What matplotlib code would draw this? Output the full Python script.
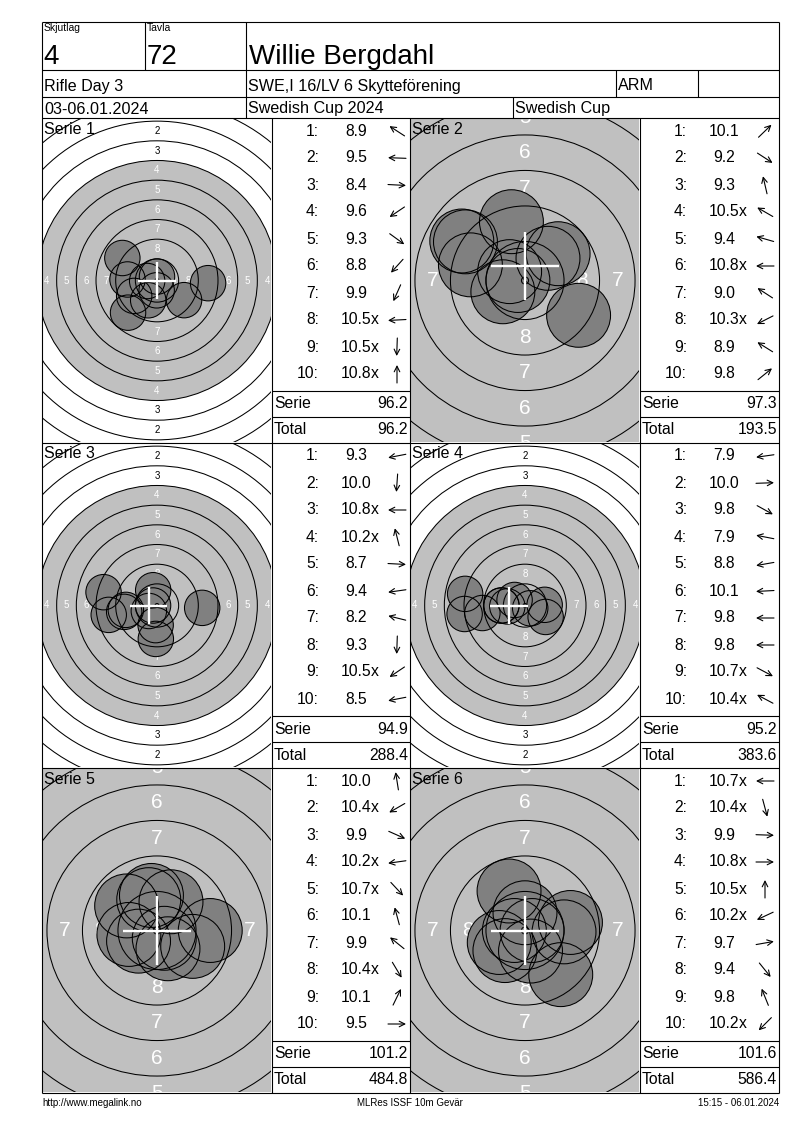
import numpy as np
import matplotlib
matplotlib.use("Agg")
import matplotlib.pyplot as plt
from matplotlib.patches import Circle, FancyArrowPatch

plt.rcParams['font.family'] = ['Liberation Sans', 'DejaVu Sans']

W, H = 800, 1130

# --- header ---
relay = "4"
target_no = "72"
shooter = "Willie Bergdahl"
event = "Rifle Day 3"
club = "SWE,I 16/LV 6 Skytteförening"
shooter_class = "ARM"
dates = "03-06.01.2024"
competition = "Swedish Cup 2024"
cup = "Swedish Cup"
footer_left = "http://www.megalink.no"
footer_mid = "MLRes ISSF 10m Gevär"
footer_right = "15:15 - 06.01.2024"

# --- shots: decimal score and direction of the arrow (degrees, 0 = right, 90 = up) ---
s1_scores = ["8.9", "9.5", "8.4", "9.6", "9.3", "8.8", "9.9", "10.5x", "10.5x", "10.8x"]
s1_dirs = [147, 178, -3, 214, -36, 228, 246, 183, 268, 90]
s2_scores = ["10.1", "9.2", "9.3", "10.5x", "9.4", "10.8x", "9.0", "10.3x", "8.9", "9.8"]
s2_dirs = [44, -33, 103, 150, 164, 180, 147, 207, 148, 39]
s3_scores = ["9.3", "10.0", "10.8x", "10.2x", "8.7", "9.4", "8.2", "9.3", "10.5x", "8.5"]
s3_dirs = [191, 266, 180, 104, -3, 188, 166, 268, 214, 191]
s4_scores = ["7.9", "10.0", "9.8", "7.9", "8.8", "10.1", "9.8", "9.8", "10.7x", "10.4x"]
s4_dirs = [188, 2, -29, 169, 190, 183, 180, 180, -28, 152]
s5_scores = ["10.0", "10.4x", "9.9", "10.2x", "10.7x", "10.1", "9.9", "10.4x", "10.1", "9.5"]
s5_dirs = [99, 210, -24, 188, -47, 105, 141, -59, 64, 0]
s6_scores = ["10.7x", "10.4x", "9.9", "10.8x", "10.5x", "10.2x", "9.7", "9.4", "9.8", "10.2x"]
s6_dirs = [180, -75, -2, 0, 90, 205, 10, -51, 112, 225]

serie_sums = [96.2, 97.3, 94.9, 95.2, 101.2, 101.6]
running_totals = [96.2, 193.5, 288.4, 383.6, 484.8, 586.4]
zoomed = [False, True, False, False, True, True]
# mean point of impact cross (mm from centre)
mpi_x = [0.0, 0.0, -1.07, -2.0, 0.0, 0.0]
mpi_y = [0.0, 1.0, 0.0, 0.0, 0.0, 0.0]

all_scores = [s1_scores, s2_scores, s3_scores, s4_scores, s5_scores, s6_scores]
all_dirs = [s1_dirs, s2_dirs, s3_dirs, s4_dirs, s5_dirs, s6_dirs]

# ISSF 10m air rifle target (mm)
ring_r = [22.75 - 2.5 * (n - 1) for n in range(1, 10)]
black_r = 15.25
dot_r = 0.25
pellet_r = 2.25

fig = plt.figure(figsize=(W / 100, H / 100), dpi=100)
fig.patch.set_facecolor('white')

row_tops = [118, 443, 768]
col_target = [42, 410]
col_table = [(272, 410), (640, 779)]
tw, th = 228, 323

for i in range(6):
    r, c = divmod(i, 2)
    top = row_tops[r]
    tx0 = col_target[c] + 1
    ty0 = top + 1
    scale = 14.2 if zoomed[i] else 7.87
    lab_fs = 15 if zoomed[i] else 7
    xmax, ymax = tw / 2 / scale, th / 2 / scale
    margin = 3 / scale

    tax = fig.add_axes([tx0 / W, 1 - (ty0 + th) / H, tw / W, th / H])
    tax.set_xlim(-xmax, xmax)
    tax.set_ylim(-ymax, ymax)
    tax.axis('off')

    tax.add_patch(Circle((0, 0), black_r, fc='#c0c0c0', ec='none', zorder=1))
    for n, rr in enumerate(ring_r, start=1):
        tax.add_patch(Circle((0, 0), rr, fill=False, ec='black', lw=0.75, zorder=4))
        if n <= 8:
            lr = rr - 1.25
            col = 'white' if n >= 4 else 'black'
            if lr <= ymax + margin:
                for py in (lr, -lr):
                    tax.text(0, py, str(n), color=col, fontsize=lab_fs, ha='center',
                             va='center', zorder=2, clip_on=True)
            if lr <= xmax + margin:
                for px in (-lr, lr):
                    tax.text(px, 0, str(n), color=col, fontsize=lab_fs, ha='center',
                             va='center', zorder=2, clip_on=True)
    tax.add_patch(Circle((0, 0), dot_r, fill=False, ec='black', lw=0.75, zorder=5))

    for s, d in zip(all_scores[i], all_dirs[i]):
        val = float(s.rstrip('x'))
        dist = (11.0 - val) * 2.5
        a = np.radians(d)
        x, y = dist * np.cos(a), dist * np.sin(a)
        tax.add_patch(Circle((x, y), pellet_r, fc='#808080', ec='none', zorder=3))
        tax.add_patch(Circle((x, y), pellet_r, fill=False, ec='black', lw=0.75, zorder=4))

    hl = 2.4
    mx, my = mpi_x[i], mpi_y[i]
    tax.plot([mx - hl, mx + hl], [my, my], color='white', lw=1.7, zorder=6, solid_capstyle='butt')
    tax.plot([mx, mx], [my - hl, my + hl], color='white', lw=1.7, zorder=6, solid_capstyle='butt')

# overlay layer in pixel coordinates
ax = fig.add_axes([0, 0, 1, 1])
ax.set_xlim(0, W)
ax.set_ylim(H, 0)
ax.axis('off')

lw = 0.8
def hline(y, x0, x1):
    ax.plot([x0, x1], [y, y], color='black', lw=lw, solid_capstyle='butt')

def vline(x, y0, y1):
    ax.plot([x, x], [y0, y1], color='black', lw=lw, solid_capstyle='butt')

# frame
hline(22, 42, 779)
hline(1093, 42, 779)
vline(42, 22, 1093)
vline(779, 22, 1093)
for y in [70, 97, 118, 443, 768]:
    hline(y, 42, 779)
vline(145, 22, 70)
vline(246, 22, 118)
vline(616, 70, 97)
vline(698, 70, 97)
vline(513, 97, 118)
for x in [272, 410, 640]:
    vline(x, 118, 1093)

# header text
ax.text(44, 31, "Skjutlag", fontsize=7.5, va='baseline')
ax.text(147, 31, "Tavla", fontsize=7.5, va='baseline')
ax.text(43, 64, relay, fontsize=20, va='baseline')
ax.text(147, 64, target_no, fontsize=20, va='baseline')
ax.text(249, 64, shooter, fontsize=20, va='baseline')
hdr_fs = 11.6
ax.text(44, 86, event, fontsize=hdr_fs, va='center')
ax.text(248, 86, club, fontsize=hdr_fs, va='center')
ax.text(618, 86, shooter_class, fontsize=hdr_fs, va='center')
ax.text(44, 109, dates, fontsize=hdr_fs, va='center')
ax.text(248, 109, competition, fontsize=hdr_fs, va='center')
ax.text(515, 109, cup, fontsize=hdr_fs, va='center')

# tables
tab_fs = 11.3
fs_px = tab_fs * 100 / 72
for i in range(6):
    r, c = divmod(i, 2)
    top = row_tops[r]
    x0, x1 = col_table[c]
    ax.text(col_target[c] + 2, top + 11, f"Serie {i + 1}", fontsize=11.5, va='center')
    for k, (s, d) in enumerate(zip(all_scores[i], all_dirs[i])):
        y = top + 13 + 27 * k
        ax.text(x0 + 47, y, f"{k + 1}:", fontsize=tab_fs, ha='right', va='center')
        num = s.rstrip('x')
        ax.text(x0 + 84, y, num, fontsize=tab_fs, ha='center', va='center')
        if s.endswith('x'):
            wnum = sum(0.556 if ch.isdigit() else 0.278 for ch in num) * fs_px
            ax.text(x0 + 84 + wnum / 2, y, 'x', fontsize=tab_fs, ha='left', va='center')
        a = np.radians(d)
        cx, cy = x0 + 125, y
        dx, dy = 9 * np.cos(a), -9 * np.sin(a)
        ax.add_patch(FancyArrowPatch((cx - dx, cy - dy), (cx + dx, cy + dy), arrowstyle='->',
                                     mutation_scale=10, lw=0.8, color='black',
                                     shrinkA=0, shrinkB=0))
    hline(top + 273, x0, x1)
    hline(top + 299, x0, x1)
    ax.text(x0 + 2, top + 286, "Serie", fontsize=tab_fs, va='center')
    ax.text(x1 - 2, top + 286, f"{serie_sums[i]:.1f}", fontsize=tab_fs, ha='right', va='center')
    ax.text(x0 + 2, top + 312, "Total", fontsize=tab_fs, va='center')
    ax.text(x1 - 2, top + 312, f"{running_totals[i]:.1f}", fontsize=tab_fs, ha='right', va='center')

# footer
ax.text(42, 1103, footer_left, fontsize=7, va='center')
ax.text(410, 1103, footer_mid, fontsize=7, ha='center', va='center')
ax.text(779, 1103, footer_right, fontsize=7, ha='right', va='center')

fig.savefig("out.png", dpi=100)
